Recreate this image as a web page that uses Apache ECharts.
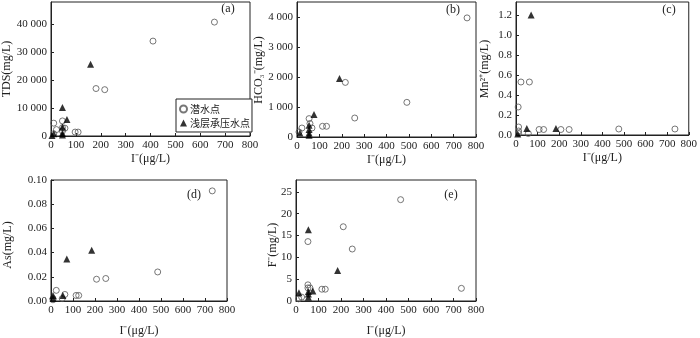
<!DOCTYPE html>
<html>
<head>
<meta charset="utf-8">
<script src="https://cdn.jsdelivr.net/npm/echarts@6/dist/echarts.min.js"></script>
<style>
  html, body { margin: 0; padding: 0; background: #fff; }
  #main { width: 700px; height: 338px; }
</style>
</head>
<body>
<div id="main"></div>
<script>
// [I- (ug/L), value]
const tdsPhreatic = [[657, 40800], [410, 34000], [181, 17000], [216, 16600], [11, 4600], [22, 2300], [46, 5400], [46, 3000], [56, 2800], [97, 1400], [109, 1400], [11, 800], [46, 1800]];
const tdsConfined = [[159, 25700], [46, 10200], [64, 5900], [46, 3200], [46, 1000], [46, 400], [11, 800], [4, 200]];

const hco3Phreatic = [[760, 3970], [216, 1820], [491, 1155], [258, 633], [114, 357], [132, 357], [54, 613], [22, 300], [67, 300], [9, 167], [58, 450]];
const hco3Confined = [[190, 1950], [76, 747], [13, 133], [54, 390], [54, 133], [54, 250], [54, 60]];

const mnPhreatic = [[23, 0.53], [62, 0.53], [10, 0.28], [12, 0.08], [12, 0.04], [12, 0.015], [57, 0.015], [107, 0.055], [128, 0.055], [208, 0.055], [246, 0.055], [476, 0.06], [736, 0.06]];
const mnConfined = [[70, 1.2], [50, 0.064], [185, 0.064], [8, 0.01]];

const asPhreatic = [[733, 0.091], [485, 0.024], [207, 0.018], [249, 0.0186], [114, 0.0046], [126, 0.0046], [63, 0.0054], [24, 0.0088], [51, 0.002], [9, 0.002], [9, 0.001]];
const asConfined = [[185, 0.042], [72, 0.0348], [54, 0.0046], [9, 0.0046], [9, 0.002]];

const fPhreatic = [[465, 23.2], [735, 2.9], [210, 17.0], [250, 11.9], [53, 13.6], [53, 3.7], [53, 3.0], [62, 3.0], [115, 2.7], [130, 2.7], [25, 0.9], [12, 0.5]];
const fConfined = [[55, 16.3], [185, 7.0], [75, 2.3], [13, 1.9], [55, 0.85], [55, 1.6], [55, 2.2]];

const panelLabels = ['(a)', '(b)', '(c)', '(d)', '(e)'];
const yNames = ['TDS(mg/L)', 'HCO\u2083\u207B(mg/L)', 'Mn\u00B2\u207A(mg/L)', 'As(mg/L)', 'F\u207B(mg/L)'];
const xName = 'I\u207B(\u03BCg/L)';

const serif = 'Liberation Serif';
const cjk = 'Noto Sans CJK SC';

function spaced(v) {
  return String(v).replace(/\B(?=(\d{3})+(?!\d))/g, ' ');
}

const grids = [
  {left: 51, top: 2, width: 199, height: 134},
  {left: 297, top: 2, width: 179, height: 135},
  {left: 516, top: 2, width: 176, height: 133},
  {left: 51, top: 180, width: 176, height: 129},
  {left: 296, top: 180, width: 180, height: 130}
];

const yCfg = [
  {max: 48000, interval: 10000, fmt: v => spaced(v), showMax: false},
  {max: 4500, interval: 1000, fmt: v => spaced(v), showMax: false},
  {max: 1.33, interval: 0.2, fmt: v => v.toFixed(1), showMax: false},
  {max: 0.1, interval: 0.02, fmt: v => v.toFixed(2), showMax: true},
  {max: 27.7, interval: 5, fmt: v => String(v), showMax: false}
];

const labelPos = [[228, 9], [453, 10], [669, 10], [194, 195], [451, 195]];
const yNamePos = [[7, 69], [259, 70], [485, 69], [8, 245], [273, 245]];

const graphics = [];
labelPos.forEach((p, i) => {
  graphics.push({
    type: 'text', x: p[0], y: p[1],
    style: {text: panelLabels[i], font: '12px "Liberation Serif"', fill: '#222', textAlign: 'center', textVerticalAlign: 'middle'}
  });
});
yNamePos.forEach((p, i) => {
  graphics.push({
    type: 'text', x: p[0], y: p[1], rotation: Math.PI / 2,
    style: {text: yNames[i], font: '12px "Liberation Serif"', fill: '#222', textAlign: 'center', textVerticalAlign: 'middle'}
  });
});

const option = {
  animation: false,
  backgroundColor: '#fff',
  textStyle: {fontFamily: serif},
  grid: grids.map(g => Object.assign({show: true, borderColor: '#222', borderWidth: 1, backgroundColor: 'transparent'}, g)),
  legend: {
    data: ['潜水点', '浅层承压水点'],
    orient: 'vertical',
    left: 176,
    top: 99,
    padding: [5, 2, 4, 3],
    itemGap: 4,
    itemWidth: 7,
    itemHeight: 7,
    backgroundColor: '#fff',
    borderColor: '#222',
    borderWidth: 1,
    borderRadius: 0,
    z: 10,
    textStyle: {fontFamily: cjk, fontSize: 10, color: '#222', padding: [0, 0, 0, -2]}
  },
  xAxis: grids.map((g, i) => ({
    type: 'value',
    gridIndex: i,
    min: 0,
    max: 800,
    interval: 100,
    name: xName,
    nameLocation: 'middle',
    nameGap: i < 3 ? 17 : 24,
    nameTextStyle: {fontFamily: serif, fontSize: 12, color: '#222'},
    axisLine: {lineStyle: {color: '#222'}},
    axisTick: {inside: true, length: 3, lineStyle: {color: '#222'}},
    axisLabel: {fontFamily: serif, fontSize: 11, color: '#222', margin: 4},
    splitLine: {show: false}
  })),
  yAxis: yCfg.map((c, i) => ({
    type: 'value',
    gridIndex: i,
    min: 0,
    max: c.max,
    interval: c.interval,
    axisLine: {lineStyle: {color: '#222'}},
    axisTick: {inside: true, length: 3, lineStyle: {color: '#222'}},
    axisLabel: {fontFamily: serif, fontSize: 11, color: '#222', margin: 4, showMaxLabel: c.showMax, formatter: c.fmt},
    splitLine: {show: false}
  })),
  series: [],
  graphic: graphics
};

const pairs = [
  [tdsPhreatic, tdsConfined],
  [hco3Phreatic, hco3Confined],
  [mnPhreatic, mnConfined],
  [asPhreatic, asConfined],
  [fPhreatic, fConfined]
];

pairs.forEach((p, i) => {
  option.series.push({
    name: '潜水点',
    type: 'scatter',
    xAxisIndex: i,
    yAxisIndex: i,
    symbol: 'circle',
    symbolSize: 6,
    itemStyle: {color: 'rgba(255,255,255,0)', borderColor: '#555', borderWidth: 1},
    data: p[0]
  });
  option.series.push({
    name: '浅层承压水点',
    type: 'scatter',
    xAxisIndex: i,
    yAxisIndex: i,
    symbol: 'triangle',
    symbolSize: 7,
    itemStyle: {color: '#000'},
    data: p[1]
  });
});

const myChart = echarts.init(document.getElementById('main'));
myChart.setOption(option);
</script>
</body>
</html>
